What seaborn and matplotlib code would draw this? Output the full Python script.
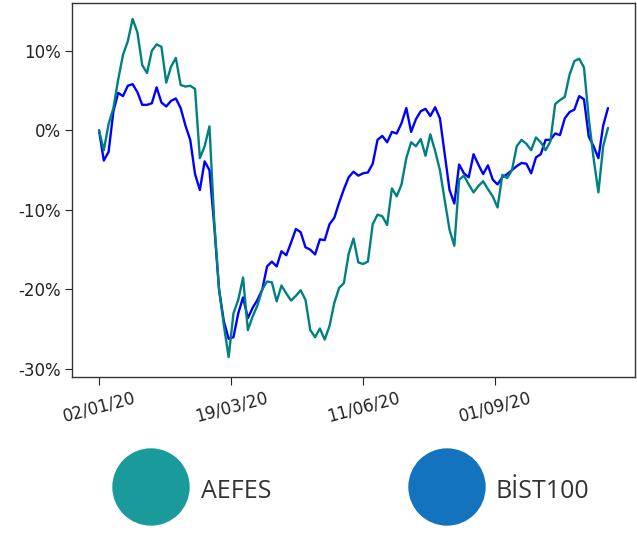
import numpy as np
import pandas as pd
import seaborn as sns
import matplotlib.pyplot as plt
from matplotlib.patches import Ellipse

# cumulative return (%) since 02/01/20, read every second trading day
aefes = [0.0, -2.5, 0.8, 2.8, 6.4, 9.5, 11.2, 14.0, 12.3, 8.2,
         7.2, 10.0, 10.8, 10.5, 6.0, 8.0, 9.1, 5.7, 5.5, 5.6,
         5.2, -3.5, -2.0, 0.5, -11.5, -20.0, -24.5, -28.5, -23.0, -21.3,
         -18.5, -25.1, -23.4, -22.0, -20.0, -19.0, -19.1, -21.5, -19.5, -20.5,
         -21.4, -20.8, -20.1, -21.3, -25.1, -26.0, -24.9, -26.3, -24.6, -21.7,
         -19.8, -19.2, -15.5, -13.6, -16.6, -16.8, -16.5, -11.8, -10.6, -10.8,
         -11.9, -7.3, -8.3, -6.8, -3.5, -1.5, -2.0, -1.1, -3.2, -0.5,
         -2.6, -5.0, -8.8, -12.5, -14.5, -6.2, -5.7, -6.8, -7.8, -7.0,
         -6.4, -7.4, -8.3, -9.7, -5.6, -6.0, -5.0, -2.0, -1.2, -1.7,
         -2.5, -0.9, -1.5, -2.5, -1.4, 3.3, 3.8, 4.2, 7.0, 8.7,
         9.0, 7.9, 1.5, -3.5, -7.8, -2.0, 0.3]

bist100 = [0.0, -3.8, -2.7, 2.4, 4.7, 4.3, 5.6, 5.8, 4.8, 3.2,
           3.2, 3.4, 5.4, 3.5, 3.0, 3.7, 4.0, 2.8, 0.6, -1.2,
           -5.5, -7.5, -3.9, -5.0, -12.0, -20.0, -24.0, -26.2, -26.0, -23.0,
           -21.0, -23.6, -22.3, -21.3, -20.0, -17.1, -16.5, -17.1, -15.2, -15.7,
           -14.1, -12.4, -12.8, -14.7, -15.0, -15.6, -13.7, -13.8, -11.8, -11.0,
           -9.1, -7.4, -5.9, -5.2, -5.7, -5.4, -5.3, -4.2, -1.2, -0.7,
           -1.5, -0.2, -0.4, 0.9, 2.8, -0.2, 1.4, 2.4, 2.7, 1.8,
           2.9, 1.5, -3.0, -7.5, -9.2, -4.3, -5.4, -5.9, -3.0, -4.3,
           -5.5, -4.4, -6.2, -6.8, -5.9, -5.5, -5.0, -4.5, -4.1, -4.2,
           -5.4, -3.4, -3.0, -1.2, -1.2, -0.4, -0.6, 1.5, 2.3, 2.6,
           4.3, 3.9, -0.8, -2.0, -3.5, 0.6, 2.8]

day = np.arange(0, 2 * len(aefes), 2)
tick_pos = [0, 55, 110, 165]
tick_labels = ['02/01/20', '19/03/20', '11/06/20', '01/09/20']
y_ticks = [-30, -20, -10, 0, 10]

df = pd.DataFrame({'day': np.concatenate([day, day]),
                   'ret': aefes + bist100,
                   'stock': ['AEFES'] * len(aefes) + ['BIST100'] * len(bist100)})

sns.set_style("ticks")
plt.rcParams['font.family'] = ['DejaVu Sans']

fig = plt.figure(figsize=(6.37, 5.35), dpi=100)
ax = fig.add_axes([72 / 637, 1 - 377 / 535, (635 - 72) / 637, (377 - 3) / 535])

sns.lineplot(data=df[df.stock == 'BIST100'], x='day', y='ret', color='#0000ff', lw=1.7, ax=ax)
sns.lineplot(data=df[df.stock == 'AEFES'], x='day', y='ret', color='#008080', lw=1.7, ax=ax)

ax.set_xlim(-11.25, 223.25)
ax.set_ylim(-31.0, 16.0)
ax.set_xticks(tick_pos)
ax.set_xticklabels(tick_labels, rotation=15, ha='center', fontsize=12)
ax.set_yticks(y_ticks)
ax.set_yticklabels([f'{v}%' for v in y_ticks], fontsize=12)
ax.tick_params(axis='x', length=6, pad=2.5, colors='#222222')
ax.tick_params(axis='y', length=5, pad=3, colors='#222222')
ax.set_xlabel('')
ax.set_ylabel('')
for s in ax.spines.values():
    s.set_color('#333333')
    s.set_linewidth(1.0)

# legend drawn as big circles below the chart
legend_items = [('AEFES', '#1a9a9a', 151, 201), ('BİST100', '#1473be', 447, 496)]
for name, col, cx, tx in legend_items:
    fig.add_artist(Ellipse((cx / 637, 1 - 487 / 535), 76 / 637, 76 / 535,
                           transform=fig.transFigure, color=col))
    fig.text(tx / 637, 1 - 492 / 535, name, fontsize=18, color='#333333',
             family=['Open Sans', 'DejaVu Sans'], va='center', ha='left')

fig.savefig('out.png', dpi=100)
